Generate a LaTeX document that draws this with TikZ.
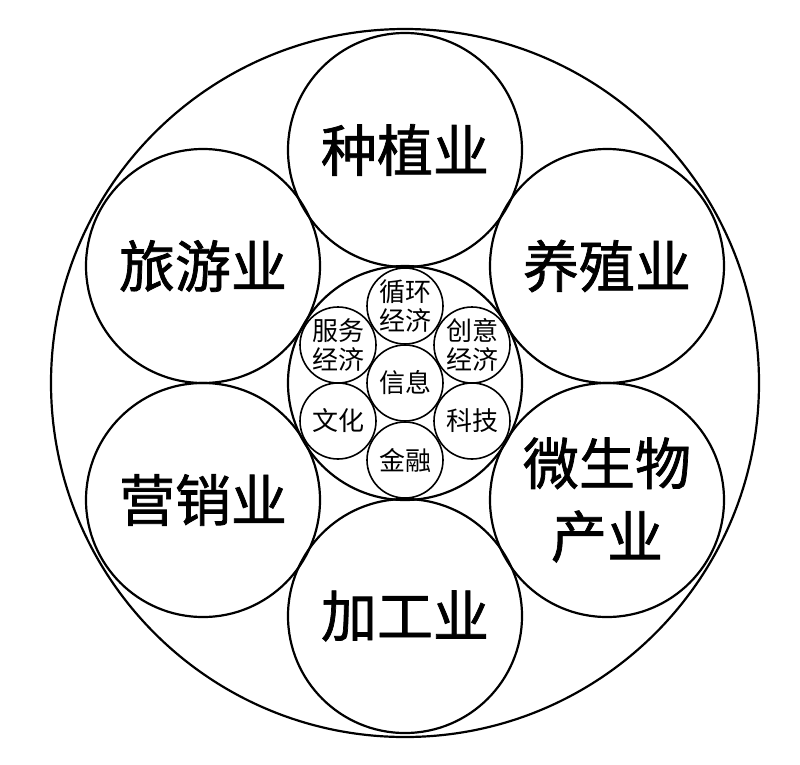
\documentclass[tikz,border=0pt]{standalone}
\usepackage{fontspec}
\setmainfont[AutoFakeBold=1.3]{Noto Sans CJK SC}
\begin{document}
\begin{tikzpicture}[x=1pt,y=-1pt,
	ring/.style={circle,draw,line width=2.2pt,inner sep=0pt},
	big/.style={ring,minimum size=234pt,align=center,font=\fontsize{56}{73}\selectfont\bfseries},
	small/.style={circle,draw,line width=1.6pt,inner sep=0pt,minimum size=76pt,align=center,font=\fontsize{26}{29}\selectfont}]
	\useasboundingbox (0,0) rectangle (800,764);
	\node[ring,minimum size=708pt] at (405,383) (all) {};
	\node[ring,minimum size=234pt] at (405,383) (core) {};
	\node[big] at (405,150) (zhongzhi) {种植业};
	\node[big] at (607,266) (yangzhi) {养殖业};
	\node[big] at (607,500) (weishengwu) {微生物\\产业};
	\node[big] at (405,616) (jiagong) {加工业};
	\node[big] at (203,500) (yingxiao) {营销业};
	\node[big] at (203,266) (lvyou) {旅游业};
	\node[small] at (405,306) (xunhuan) {循环\\经济};
	\node[small] at (472,345) (chuangyi) {创意\\经济};
	\node[small] at (472,421) (keji) {科技};
	\node[small] at (405,460) (jinrong) {金融};
	\node[small] at (338,421) (wenhua) {文化};
	\node[small] at (338,345) (fuwu) {服务\\经济};
	\node[small] at (405,383) (xinxi) {信息};
\end{tikzpicture}
\end{document}
